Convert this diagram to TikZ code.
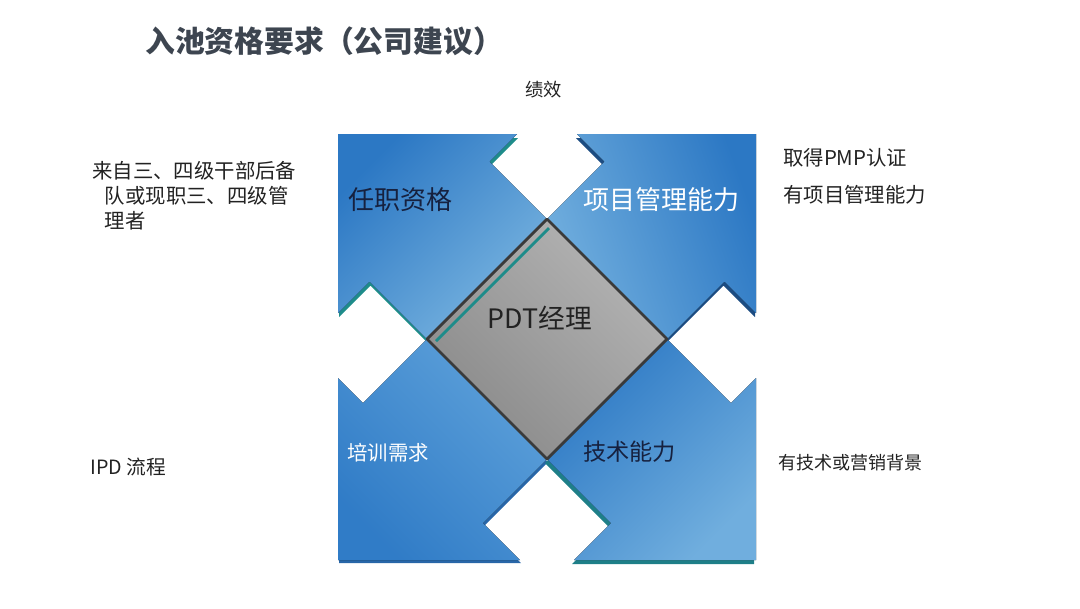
\documentclass[tikz,border=0pt]{standalone}
\usepackage{fontspec}
\setmainfont{Noto Sans CJK SC}
\definecolor{titlegray}{HTML}{3D4550}
\definecolor{txtdark}{HTML}{222222}
\definecolor{navytxt}{HTML}{16213F}
\definecolor{bluedark}{HTML}{2C78C4}
\definecolor{bluemid}{HTML}{4A93D6}
\definecolor{bluelight}{HTML}{7AB5E0}
\definecolor{tealside}{HTML}{1E8C8A}
\definecolor{navyside}{HTML}{1C4C82}
\definecolor{blueside}{HTML}{2866A8}
\definecolor{graydark}{HTML}{8A8A8A}
\definecolor{graylight}{HTML}{B4B4B4}
\definecolor{rimgray}{HTML}{3A3A3A}

\begin{document}
\begin{tikzpicture}[x=0.025cm, y=-0.025cm,
  side/.style={font=\fontsize{14.5}{18}\selectfont, text=txtdark, anchor=west, inner sep=0pt},
  tag/.style={font=\fontsize{18.5}{22}\selectfont, anchor=west, inner sep=0pt}]
  \useasboundingbox (0,0) rectangle (1080,608);
  % 标题
  \node[anchor=west, inner sep=0pt, text=titlegray,
        font=\fontsize{21.2}{25}\selectfont\bfseries] (title) at (145,41) {入池资格要求（公司建议）};

  % 左上箭头 (先画厚度)
  \fill[tealside, shift={(1,4)}] (338,134) -- (517,134) -- (489.5,161.5) -- (547,219)
    -- (427,339) -- (369.5,281.5) -- (338,313) -- cycle;
  \fill[top color=bluedark, bottom color=bluelight, shading angle=45]
    (338,134) -- (517,134) -- (489.5,161.5) -- (547,219)
    -- (427,339) -- (369.5,281.5) -- (338,313) -- cycle;
  % 右上箭头
  \fill[navyside, shift={(-1,4)}] (756,134) -- (577,134) -- (604.5,161.5) -- (547,219)
    -- (667,339) -- (724.5,281.5) -- (756,313) -- cycle;
  \fill[top color=bluedark, bottom color=bluelight!85!bluemid, shading angle=-70]
    (756,134) -- (577,134) -- (604.5,161.5) -- (547,219)
    -- (667,339) -- (724.5,281.5) -- (756,313) -- cycle;
  % 左下箭头
  \fill[blueside, shift={(1,3)}] (338,560) -- (338,378) -- (363,403) -- (427,339)
    -- (547,459) -- (483,523) -- (520,560) -- cycle;
  \fill[top color=bluemid!60!bluelight, bottom color=bluedark!85!bluemid, shading angle=-45]
    (338,560) -- (338,378) -- (363,403) -- (427,339)
    -- (547,459) -- (483,523) -- (520,560) -- cycle;
  % 右下箭头
  \fill[tealside!80!navyside, shift={(-2,4)}] (756,560) -- (756,378) -- (731,403) -- (667,339)
    -- (547,459) -- (611,523) -- (574,560) -- cycle;
  \fill[top color=bluedark, bottom color=bluelight!80!bluemid, shading angle=45]
    (756,560) -- (756,378) -- (731,403) -- (667,339)
    -- (547,459) -- (611,523) -- (574,560) -- cycle;

  % 中间菱形
  \fill[top color=graylight, bottom color=graydark, shading angle=-45]
    (547,219) -- (667,339) -- (547,459) -- (427,339) -- cycle;
  \draw[rimgray, line width=2pt, line join=round]
    (547,219) -- (667,339) -- (547,459) -- (427,339) -- cycle;
  \draw[tealside, line width=2pt] (549,228) -- (436,341);

  % 箭头上的文字
  \node[tag, text=navytxt] (qual) at (348,200) {任职资格};
  \node[tag, text=white] (pm) at (583,200) {项目管理能力};
  \node[font=\fontsize{19}{22}\selectfont, text=txtdark] (pdt) at (540,318) {PDT经理};
  \node[tag, text=white, font=\fontsize{14.5}{18}\selectfont] (train) at (347,453) {培训需求};
  \node[tag, text=navytxt, font=\fontsize{16.5}{20}\selectfont] (tech) at (583,452) {技术能力};

  % 周围说明
  \node[side, font=\fontsize{13}{16}\selectfont] (perf) at (525,90) {绩效};
  \node[side, align=left, font=\fontsize{14.5}{17.8}\selectfont] (cadre) at (92,196)
    {来自三、四级干部后备\\\hspace*{0.62em}队或现职三、四级管\\\hspace*{0.62em}理者};
  \node[side] (pmp) at (783,158) {取得PMP认证};
  \node[side] (pmab) at (783,195) {有项目管理能力};
  \node[side, font=\fontsize{12.8}{16}\selectfont] (bg) at (778,463) {有技术或营销背景};
  \node[side, font=\fontsize{14}{17}\selectfont] (ipd) at (90,467) {IPD 流程};
\end{tikzpicture}
\end{document}
